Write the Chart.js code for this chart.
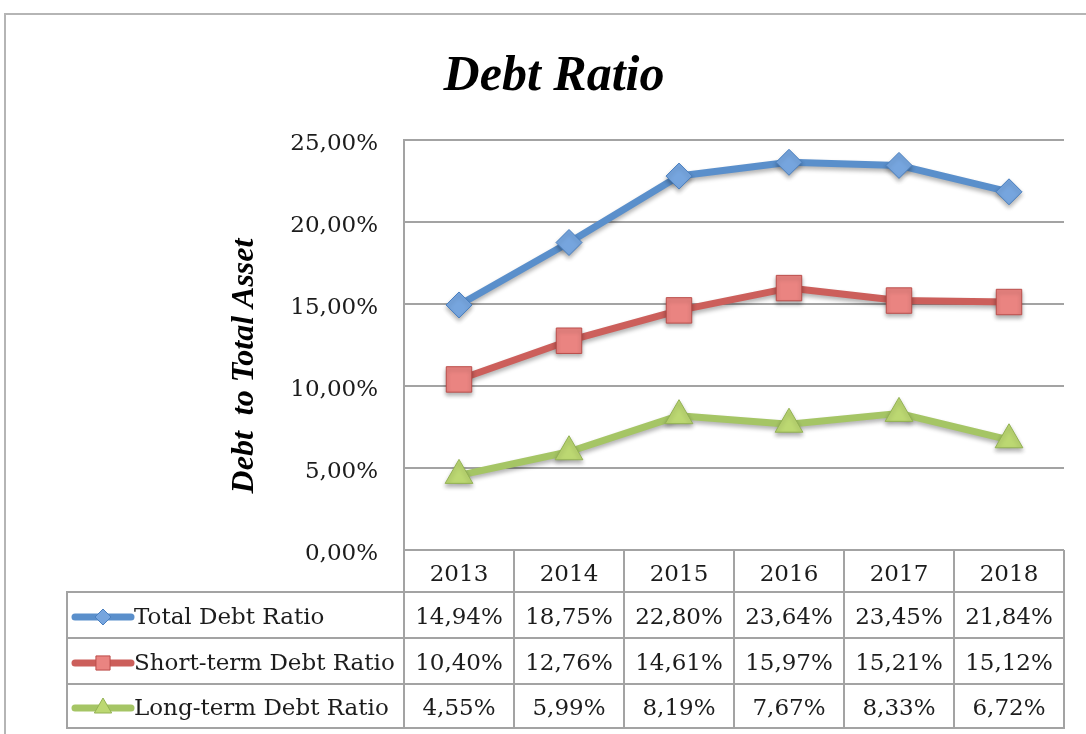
<!DOCTYPE html>
<html><head><meta charset="utf-8">
<script src="https://cdn.jsdelivr.net/npm/chart.js@4/dist/chart.umd.min.js"></script>
<style>html,body{margin:0;padding:0;background:#fff;}#wrap{width:1086px;height:734px;position:relative;}</style>
</head><body><div id="wrap"><canvas id="c" width="1086" height="734"></canvas></div>
<script>
const categories = ['2013','2014','2015','2016','2017','2018'];
const seriesNames = ['Total Debt Ratio','Short-term Debt Ratio','Long-term Debt Ratio'];
const totalDebt = [14.94,18.75,22.80,23.64,23.45,21.84];
const shortTermDebt = [10.40,12.76,14.61,15.97,15.21,15.12];
const longTermDebt = [4.55,5.99,8.19,7.67,8.33,6.72];
const yTicks = [0,5,10,15,20,25];
const chartTitle = 'Debt Ratio';
const yTitle = 'Debt  to Total Asset';

const fmt = v => v.toFixed(2).replace('.', ',') + '%';
const serif = '"DejaVu Serif", serif';
const titleSerif = '"Liberation Serif", "Times New Roman", serif';
const textColor = '#1c1c1c';
const gridColor = '#a3a3a3';

const styles = [
  {line:'#5a8fcb', fill:'#76a5de', edge:'#4a7fbf', point:'rectRot', r:13, lr:8},
  {line:'#cc5f5b', fill:'#ea8481', edge:'#bb4d4a', point:'rect', r:18, lr:10},
  {line:'#a5c565', fill:'#bcd872', edge:'#93b253', point:'triangle', r:16, lr:10}
];
const allSeries = [totalDebt, shortTermDebt, longTermDebt];

const framePlugin = {
  id:'frame',
  beforeDraw(chart){
    const ctx = chart.ctx;
    ctx.save();
    ctx.fillStyle = '#fff';
    ctx.fillRect(0,0,chart.width,chart.height);
    ctx.strokeStyle = '#b5b5b5';
    ctx.lineWidth = 2;
    ctx.beginPath();
    ctx.moveTo(5, chart.height); ctx.lineTo(5, 14); ctx.lineTo(chart.width, 14);
    ctx.stroke();
    ctx.restore();
  }
};

const shadowPlugin = {
  id:'shadow',
  beforeDatasetDraw(chart){
    const ctx = chart.ctx;
    ctx.save();
    ctx.shadowColor = 'rgba(0,0,0,0.3)';
    ctx.shadowBlur = 4;
    ctx.shadowOffsetY = 3;
  },
  afterDatasetDraw(chart){ chart.ctx.restore(); }
};

const tablePlugin = {
  id:'dataTable',
  afterDraw(chart){
    const ctx = chart.ctx;
    const ca = chart.chartArea;
    const xs = chart.scales.x;
    const n = categories.length;
    const colW = (ca.right - ca.left)/n;
    const rowTops = [ca.bottom + 42, ca.bottom + 88, ca.bottom + 134, ca.bottom + 178];
    const tableLeft = 67;
    ctx.save();
    ctx.strokeStyle = gridColor; ctx.lineWidth = 2;
    ctx.beginPath();
    for (let i=0;i<=n;i++){
      const x = Math.round(ca.left + i*colW);
      ctx.moveTo(x, ca.bottom); ctx.lineTo(x, rowTops[3]);
    }
    ctx.moveTo(tableLeft, rowTops[0]); ctx.lineTo(tableLeft, rowTops[3]);
    rowTops.forEach(y => { ctx.moveTo(tableLeft-1, y); ctx.lineTo(ca.right+1, y); });
    ctx.stroke();

    ctx.font = '23px ' + serif;
    ctx.fillStyle = textColor;
    ctx.textBaseline = 'middle';
    for (let r=0;r<3;r++){
      const yc = (rowTops[r]+rowTops[r+1])/2 + 3;
      const st = styles[r];
      ctx.save();
      ctx.strokeStyle = st.line; ctx.lineWidth = 7; ctx.lineCap = 'round';
      ctx.beginPath(); ctx.moveTo(75, yc-1); ctx.lineTo(131, yc-1); ctx.stroke();
      ctx.restore();
      ctx.save();
      ctx.fillStyle = st.fill; ctx.strokeStyle = st.edge; ctx.lineWidth = 1;
      Chart.helpers.drawPoint(ctx, {pointStyle: st.point, radius: st.lr, rotation: 0, borderWidth: 1}, 103, yc-1);
      ctx.restore();
      ctx.textAlign = 'left';
      ctx.fillStyle = textColor;
      ctx.fillText(seriesNames[r], 134, yc);
      ctx.textAlign = 'center';
      allSeries[r].forEach((v,i) => ctx.fillText(fmt(v), xs.getPixelForValue(i), yc));
    }
    ctx.save();
    ctx.translate(245, 366);
    ctx.rotate(-Math.PI/2);
    ctx.font = 'italic bold 32px ' + titleSerif;
    ctx.textAlign = 'center'; ctx.textBaseline = 'middle';
    ctx.fillStyle = '#000';
    ctx.fillText(yTitle, 0, 0);
    ctx.restore();
    ctx.restore();
  }
};

new Chart(document.getElementById('c'), {
  type:'line',
  data:{
    labels: categories,
    datasets: allSeries.map((d,i) => ({
      label: seriesNames[i],
      data: d,
      borderColor: styles[i].line,
      borderWidth: 7,
      backgroundColor: styles[i].fill,
      pointStyle: styles[i].point,
      pointRadius: styles[i].r,
      pointHoverRadius: styles[i].r,
      pointBackgroundColor: styles[i].fill,
      pointBorderColor: styles[i].edge,
      pointBorderWidth: 1,
      tension: 0,
      clip: false,
      borderJoinStyle: 'round',
      borderCapStyle: 'round'
    }))
  },
  options:{
    responsive:false,
    animation:false,
    events:[],
    layout:{padding:{top:0,left:44,right:22,bottom:142}},
    plugins:{
      legend:{display:false},
      tooltip:{enabled:false},
      title:{
        display:true, text: chartTitle, color:'#000',
        font:{family:titleSerif, size:50, style:'italic', weight:'bold', lineHeight:1.2},
        padding:{top:47, bottom:33}
      }
    },
    scales:{
      x:{
        offset:true,
        grid:{display:false, drawTicks:false},
        border:{display:false},
        ticks:{color:textColor, font:{family:serif, size:23}, padding:11, maxRotation:0},
        afterFit(s){ s.height = 42; }
      },
      y:{
        min:0, max:25,
        afterBuildTicks(s){ s.ticks = yTicks.map(v => ({value:v})); },
        grid:{color:gridColor, lineWidth:2, drawTicks:false},
        border:{display:true, color:gridColor, width:2},
        ticks:{color:textColor, font:{family:serif, size:23}, padding:26, labelOffset:4, callback:(v)=>fmt(v)},
        afterFit(s){ s.width = 360; }
      }
    }
  },
  plugins:[framePlugin, shadowPlugin, tablePlugin]
});
</script></body></html>
